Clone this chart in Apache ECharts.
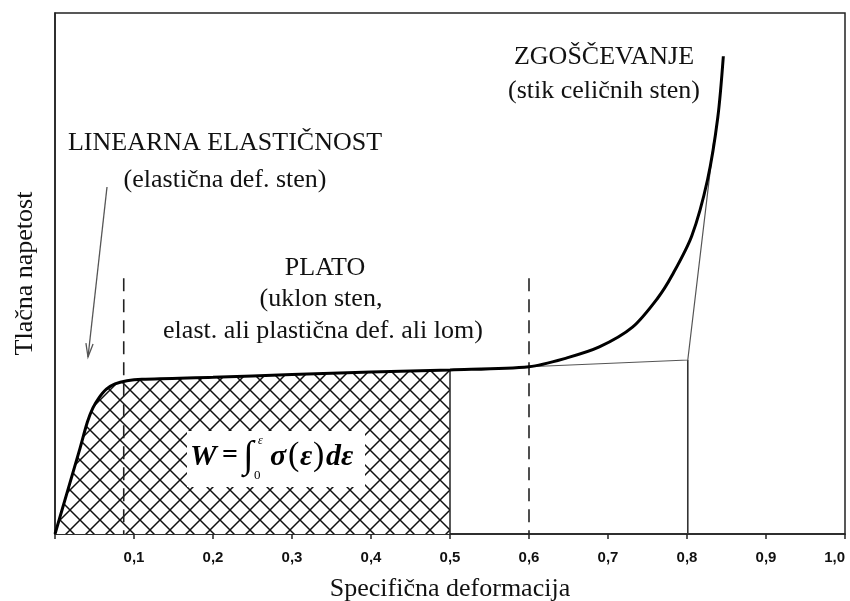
<!DOCTYPE html>
<html><head><meta charset="utf-8">
<script src="https://cdn.jsdelivr.net/npm/echarts@6/dist/echarts.min.js"></script>
<style>html,body{margin:0;padding:0;background:#fff}#c{width:850px;height:601px}</style>
</head><body><div id="c"></div>
<script>
// ---- data ----
const curveX = [0, 0.031, 0.041, 0.048, 0.055, 0.065, 0.076, 0.091, 0.11, 0.2, 0.3, 0.4, 0.5, 0.6, 0.648, 0.689, 0.731, 0.763, 0.781, 0.806, 0.826, 0.839, 0.846];
const curveY = [0, 16.1, 21.5, 24.2, 26.0, 27.8, 28.8, 29.4, 29.7, 30.1, 30.6, 31.1, 31.5, 32.1, 33.8, 35.9, 39.7, 45.3, 49.6, 57.2, 68.0, 80.0, 91.7];
const hatchEndX = 0.5;
const dashedX = [0.087, 0.6];
const dashedTopY = 49.1;
const chordX = [0.6, 0.801, 0.834];
const chordY = [32.1, 33.4, 75.6];
const densX = 0.801;
const densTopY = 33.4;
const tickValues = [0, 0.1, 0.2, 0.3, 0.4, 0.5, 0.6, 0.7, 0.8, 0.9, 1.0];
const tickLabels = ['', '0,1', '0,2', '0,3', '0,4', '0,5', '0,6', '0,7', '0,8', '0,9', '1,0'];

const SERIF = "'Liberation Serif','Times New Roman',serif";

// hatch pattern
const pat = document.createElement('canvas');
pat.width = 20; pat.height = 20;
const g = pat.getContext('2d');
g.fillStyle = '#fff'; g.fillRect(0, 0, 20, 20);
g.strokeStyle = '#111'; g.lineWidth = 1.5;
g.beginPath(); g.moveTo(-2, -2); g.lineTo(22, 22); g.moveTo(22, -2); g.lineTo(-2, 22); g.stroke();

const curve = curveX.map((x, i) => [x, curveY[i]]);
const hatch = curve.filter(p => p[0] <= hatchEndX);
const hatchTop = curveY[curveX.indexOf(hatchEndX)];

const chart = echarts.init(document.getElementById('c'), null, {renderer: 'canvas'});

function txt(text, x, y, size) {
  return {type: 'text', z: 100,
    style: {text: text, x: x, y: y, fill: '#111', font: size + 'px ' + SERIF, align: 'center', verticalAlign: 'middle'}};
}

// arrow geometry (annotation)
const a0 = [107, 187], a1 = [88, 357];
const dx = a1[0] - a0[0], dy = a1[1] - a0[1], L = Math.hypot(dx, dy);
const ux = dx / L, uy = dy / L, ah = 14, ang = 0.26;
function rot(x, y, t) { return [x * Math.cos(t) - y * Math.sin(t), x * Math.sin(t) + y * Math.cos(t)]; }
const r1 = rot(-ux, -uy, ang), r2 = rot(-ux, -uy, -ang);

const fItalic = (s) => 'italic bold ' + s + 'px ' + SERIF;
function ft(text, x, y, font) {
  return {type: 'text', z: 100, style: {text: text, x: x, y: y, font: font, fill: '#000', align: 'left', verticalAlign: 'middle'}};
}

chart.setOption({
  animation: false,
  backgroundColor: '#fff',
  grid: {show: true, left: 55, right: 5, top: 13, bottom: 67, outerBoundsMode: 'none', containLabel: false,
    borderColor: '#222', borderWidth: 1.5, backgroundColor: 'transparent'},
  xAxis: {
    type: 'value', min: 0, max: 1, interval: 0.1,
    name: 'Specifična deformacija', nameLocation: 'middle', nameGap: 42,
    nameTextStyle: {fontFamily: SERIF, fontSize: 26, color: '#111'},
    axisLine: {show: true, lineStyle: {color: '#222', width: 1.5}},
    axisTick: {show: true, inside: false, length: 5, lineStyle: {color: '#222', width: 1.5}},
    axisLabel: {margin: 16, alignMaxLabel: 'right', fontFamily: "'Liberation Sans',Arial,sans-serif", fontWeight: 'bold', fontSize: 15, color: '#111',
      formatter: v => tickLabels[tickValues.findIndex(t => Math.abs(t - v) < 1e-6)] || ''},
    splitLine: {show: false}
  },
  yAxis: {
    type: 'value', min: 0, max: 100,
    name: 'Tlačna napetost', nameLocation: 'middle', nameGap: 17,
    nameTextStyle: {fontFamily: SERIF, fontSize: 26, color: '#111'},
    axisLine: {show: true, lineStyle: {color: '#222', width: 1.5}},
    axisTick: {show: false}, axisLabel: {show: false}, splitLine: {show: false}
  },
  series: [
    {type: 'line', name: 'hatch', data: hatch, smooth: 0.3, symbol: 'none', z: 1,
      lineStyle: {width: 0}, areaStyle: {color: {image: pat, repeat: 'repeat'}, opacity: 1}},
    {type: 'line', data: [[hatchEndX, 0], [hatchEndX, hatchTop]], symbol: 'none', z: 3,
      lineStyle: {color: '#222', width: 1.5}},
    {type: 'line', data: [[densX, 0], [densX, densTopY]], symbol: 'none', z: 3,
      lineStyle: {color: '#333', width: 1.6}},
    {type: 'line', data: chordX.map((x, i) => [x, chordY[i]]), symbol: 'none', z: 3,
      lineStyle: {color: '#555', width: 1.2}},
    ...dashedX.map(x => ({type: 'line', data: [[x, dashedTopY], [x, 0]], symbol: 'none', z: 3,
      lineStyle: {color: '#222', width: 1.6, type: [13, 8]}})),
    {type: 'line', name: 'curve', data: curve, smooth: 0.3, symbol: 'none', z: 5,
      lineStyle: {color: '#000', width: 3}}
  ],
  graphic: [
    txt('LINEARNA ELASTIČNOST', 225, 143, 26),
    txt('(elastična def. sten)', 225, 180, 26),
    txt('PLATO', 325, 268, 26),
    txt('(uklon sten,', 321, 299, 26),
    txt('elast. ali plastična def. ali lom)', 323, 331, 26),
    txt('ZGOŠČEVANJE', 604, 57, 26),
    txt('(stik celičnih sten)', 604, 91, 26),
    {type: 'line', z: 100, shape: {x1: a0[0], y1: a0[1], x2: a1[0], y2: a1[1]}, style: {stroke: '#555', lineWidth: 1.3}},
    {type: 'polyline', z: 100, shape: {points: [[a1[0] + r1[0] * ah, a1[1] + r1[1] * ah], a1, [a1[0] + r2[0] * ah, a1[1] + r2[1] * ah]]},
      style: {stroke: '#555', lineWidth: 1.3, fill: null}},
    {type: 'rect', z: 90, shape: {x: 187, y: 431, width: 178, height: 56}, style: {fill: '#fff'}},
    ft('W', 190, 457, fItalic(30)),
    ft('=', 222, 456, 'bold 28px ' + SERIF),
    ft('∫', 243, 457, 'italic 38px ' + SERIF),
    ft('ε', 258, 441, 'italic 12px ' + SERIF),
    ft('0', 254, 476, '13px ' + SERIF),
    ft('σ', 270, 457, fItalic(30)),
    ft('(', 288, 456, '34px ' + SERIF),
    ft('ε', 300, 457, fItalic(30)),
    ft(')', 313, 456, '34px ' + SERIF),
    ft('dε', 326, 457, fItalic(30))
  ]
});
</script>
</body></html>
